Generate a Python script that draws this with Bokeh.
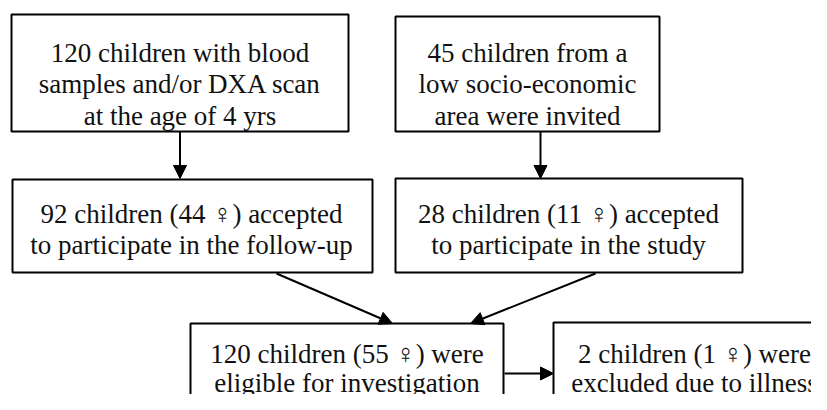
from bokeh.plotting import figure
from bokeh.models import Range1d, Arrow, NormalHead, ColumnDataSource, Label
from bokeh.embed import file_html
from bokeh.resources import INLINE

# ---- content (flowchart texts, one entry per box) ----
box_texts = [
    ["120 children with blood", "samples and/or DXA scan", "at the age of 4 yrs"],
    ["45 children from a", "low socio-economic", "area were invited"],
    ["92 children (44 \u2640) accepted", "to participate in the follow-up"],
    ["28 children (11 \u2640) accepted", "to participate in the study"],
    ["120 children (55 \u2640) were", "eligible for investigation"],
    ["2 children (1 \u2640) were", "excluded due to illness"],
]

# ---- layout (pixel coordinates of the reference) ----
box_left = [11, 395, 12, 395, 190, 553]
box_right = [348, 659, 372, 742, 503, 840]
box_top = [14, 16, 179, 178, 323, 322]
box_bottom = [131, 131, 272, 272, 440, 440]
text_x = [179.5, 527, 191, 568, 346.5, 694]
first_baseline = [52, 52, 213, 213, 353, 353]
line_step = [31.5, 31.5, 31.5, 31.5, 29.5, 29.5]

arrows = [
    # (x0, y0, x1, y1)
    (179.5, 131, 179.5, 178),
    (540, 131, 540, 178),
    (276, 273, 392, 323),
    (595, 273, 470, 323),
    (504, 373, 553, 373),
]

p = figure(width=811, height=394, output_backend="svg", toolbar_location=None,
           x_range=Range1d(0, 811), y_range=Range1d(394, 0),
           x_axis_type=None, y_axis_type=None, min_border=0,
           outline_line_color=None, background_fill_color="white",
           border_fill_color="white")
p.xgrid.visible = False
p.ygrid.visible = False

src = ColumnDataSource(dict(left=box_left, right=box_right, top=box_top,
                            bottom=box_bottom))
p.quad(left="left", right="right", top="top", bottom="bottom", source=src,
       fill_color="white", line_color="black", line_width=2)

for (x0, y0, x1, y1) in arrows:
    p.add_layout(Arrow(x_start=x0, y_start=y0, x_end=x1, y_end=y1,
                       line_color="black", line_width=2,
                       end=NormalHead(size=13, fill_color="black",
                                      line_color="black", line_width=1)))

for i, lines in enumerate(box_texts):
    for j, line in enumerate(lines):
        p.add_layout(Label(x=text_x[i], y=first_baseline[i] + j * line_step[i],
                           text=line, text_align="center",
                           text_baseline="alphabetic",
                           text_font="Liberation Serif",
                           text_font_size="27px", text_color="#111111"))

open("out.html", "w").write(file_html(p, INLINE))
